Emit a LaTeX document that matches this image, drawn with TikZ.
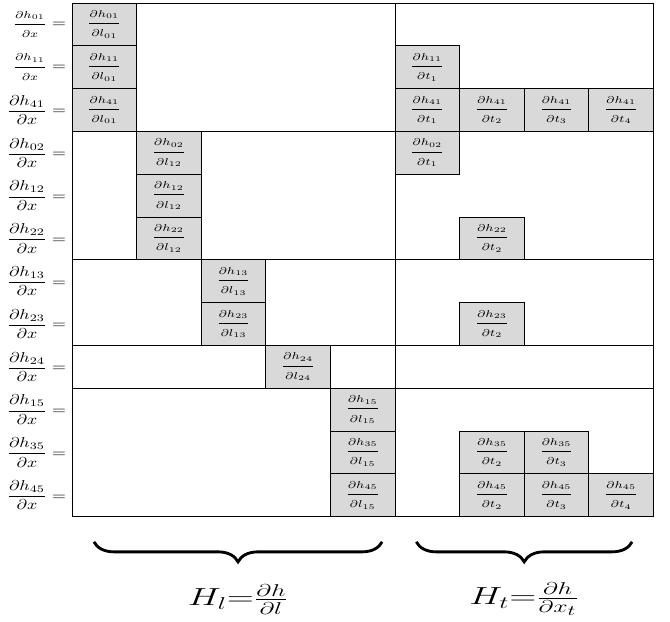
\documentclass[tikz,border=0pt]{standalone}
\usepackage{amsmath}
\usepackage{graphicx}
\usetikzlibrary{decorations.pathreplacing}
\newcommand{\xs}[1]{\scalebox{1.25}[1]{#1}}
\tikzset{
  cell/.style={draw, semithick, fill=gray!30, minimum width=45.22pt, minimum height=29.96pt, inner sep=0pt},
  rowlabel/.style={anchor=east, inner sep=0pt},
  bigbrace/.style={decorate, decoration={brace, mirror, amplitude=14pt}, line width=2pt},
}
\begin{document}
\begin{tikzpicture}[x=45.22pt, y=29.96pt] % {{{
\useasboundingbox (-50.4pt,2.1pt) rectangle (418.6pt,-433.3pt);
% Gray cells {{{
\foreach \r/\c/\idx/\var in {0/0/01/l_{01}, 1/0/11/l_{01}, 2/0/41/l_{01},
    3/1/02/l_{12}, 4/1/12/l_{12}, 5/1/22/l_{12},
    6/2/13/l_{13}, 7/2/23/l_{13}, 8/3/24/l_{24},
    9/4/15/l_{15}, 10/4/35/l_{15}, 11/4/45/l_{15},
    1/5/11/t_1, 2/5/41/t_1, 2/6/41/t_2, 2/7/41/t_3, 2/8/41/t_4,
    3/5/02/t_1, 5/6/22/t_2, 7/6/23/t_2,
    10/6/35/t_2, 10/7/35/t_3, 11/6/45/t_2, 11/7/45/t_3, 11/8/45/t_4} {
  \node[cell] (cell-\r-\c) at (\c+0.5,-\r-0.5)
    {\xs{$\dfrac{\scriptstyle\partial h_{\idx}}{\scriptstyle\partial \var}$}};
}
% }}}
% Blocks {{{
\draw[semithick] (0,0) rectangle (9,-12);
\draw[semithick] (5,0) -- (5,-12);
\foreach \y in {3,6,8,9} {
  \draw[semithick] (0,-\y) -- (9,-\y);
}
% }}}
% Row labels {{{
\foreach \r/\idx in {0/01,1/11} {
  \node[rowlabel] (lab-\r) at (-0.09,-\r-0.5)
    {\xs{$\dfrac{\scriptstyle\partial h_{\idx}}{\scriptstyle\partial x}=$}};
}
\foreach \r/\idx in {2/41,3/02,4/12,5/22,6/13,7/23,8/24,9/15,10/35,11/45} {
  \node[rowlabel] (lab-\r) at (-0.09,-\r-0.5) {\xs{$\dfrac{\partial h_{\idx}}{\partial x}=$}};
}
% }}}
% Braces {{{
\coordinate (hl-a) at (0.34,-12.59);
\coordinate (hl-b) at (4.80,-12.59);
\coordinate (ht-a) at (5.33,-12.59);
\coordinate (ht-b) at (8.67,-12.59);
\draw[bigbrace] (hl-a) -- (hl-b);
\draw[bigbrace] (ht-a) -- (ht-b);
\node (hl) at (2.57,-13.93) {\scalebox{1.5}[1]{\LARGE $H_l{=}\frac{\partial h}{\partial l}$}};
\node (ht) at (7.0,-13.93) {\scalebox{1.5}[1]{\LARGE $H_t{=}\frac{\partial h}{\partial x_t}$}};
% }}}
\end{tikzpicture} % }}}
\end{document}
